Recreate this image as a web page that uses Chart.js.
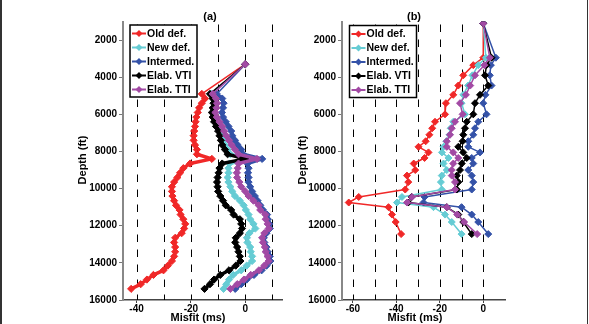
<!DOCTYPE html>
<html><head><meta charset="utf-8">
<script src="https://cdn.jsdelivr.net/npm/chart.js@4.4.0/dist/chart.umd.min.js"></script>
<style>
html,body{margin:0;padding:0;background:#fff;}
#wrap{position:relative;width:589px;height:324px;overflow:hidden;background:#fff;}
canvas{position:absolute;top:0;}
#ca{left:0;}
#cb{left:290px;}
.edge{position:absolute;top:0;height:324px;background:#333;}
</style>
</head><body>
<div id="wrap">
<canvas id="ca" width="300" height="324"></canvas>
<canvas id="cb" width="299" height="324"></canvas>
<div class="edge" style="left:0;width:2px"></div>
<div class="edge" style="left:587px;width:1px"></div>
</div>
<script>
// ---------- data ----------
const seriesNames = ['Old def.', 'New def.', 'Intermed.', 'Elab. VTI', 'Elab. TTI'];
const seriesColors = ['#f02828', '#66ccd4', '#3452a8', '#000000', '#a24aa4'];
const drawOrder = [5, 4, 3, 2, 1];

const depthTicks = [2000, 4000, 6000, 8000, 10000, 12000, 14000, 16000];
const aMisfitTicks = [-40, -20, 0];
const bMisfitTicks = [-60, -40, -20, 0];
const aDashLines = [-40, -30, -20, -10, 0, 10];
const bDashLines = [-60, -50, -40, -30, -20, -10, 0];

// panel (a)
const aDepthFt = [3300, 4900, 5150, 5400, 5650, 5900, 6150, 6400, 6650, 6900, 7150, 7400, 7650, 7900, 8150, 8400, 8650, 8900, 9150, 9400, 9650, 9900, 10150, 10400, 10650, 10900, 11150, 11400, 11650, 11900, 12150, 12400, 12650, 12900, 13150, 13400, 13650, 13900, 14150, 14400, 14650, 14900, 15150, 15400];
const aOldDef = [0, -16, -14.8, -16, -17, -17.5, -18, -18.3, -18.5, -18.8, -19, -19, -18.5, -17.8, -17.8, -12.3, -20.3, -22.8, -24, -25, -26.2, -27, -27, -26.8, -26.2, -25.5, -24.2, -23.8, -22.8, -22.1, -22.5, -23.4, -25.8, -26.2, -25.8, -25.8, -26.2, -27, -28.5, -30.1, -33.8, -36.2, -38.5, -42];
const aNewDef = [0, -12.5, -11.5, -11, -11.2, -11.5, -11, -10.5, -9.8, -9, -8.5, -8, -7.5, -6.5, -5.5, 2, -5.8, -6.2, -6.2, -6.5, -6.2, -5.5, -4.8, -3.8, -2, -0.6, 0.2, 1.2, 1.8, 3, 3.7, 1.5, 0.6, 0.8, 1.8, 2, 2.5, 2.5, 0.5, -1.5, -4.5, -6, -7, -8];
const aIntermed = [0, -10.5, -8.5, -8, -8.2, -8.6, -8.2, -7.2, -6.2, -5.2, -4.8, -3.8, -2.8, -1.5, -0.8, 6.2, 0.8, 1.2, 1, 1.2, 1.2, 1.8, 2.5, 3.5, 4.5, 5.5, 6.5, 8, 8.3, 8.8, 9, 7.8, 6.8, 7, 7.8, 8.2, 9, 9.2, 7.8, 6, 3.2, 0.5, -1.5, -3.7];
const aElabVTI = [0, -13, -12, -11.7, -12, -12.3, -12, -11.5, -10.8, -10, -9.5, -9, -8.5, -7.5, -6.5, 0, -8.5, -9.5, -9.8, -10.2, -10.4, -10.2, -10, -9.2, -8.2, -7.2, -5.2, -4.3, -2, -1.5, -1.2, -2, -3.5, -3.7, -3, -2.5, -2, -1.8, -3.5, -6, -9.2, -11.5, -13, -15];
const aElabTTI = [0, -12, -10.8, -10.4, -10.6, -11, -10.5, -9.5, -8.5, -7.8, -7, -6, -5, -3.8, -2.5, 4.3, -2.5, -2.8, -3.1, -3, -2.2, -1.5, 0, 1.2, 3, 4.9, 5.5, 7.4, 7.5, 8.2, 8.6, 7, 6.2, 6.5, 7.2, 7.5, 8.2, 8.6, 7, 5, 2, -0.5, -3, -5.5];

// panel (b)
const bDepthFt = [1100, 2950, 3350, 3900, 4450, 4950, 5400, 6000, 6400, 6750, 7100, 7450, 7750, 8050, 8350, 8650, 9000, 9300, 9650, 10050, 10450, 10750, 11000, 11400, 11800, 12450];
const bOldDef = [0, 0, -4.6, -9.2, -11.5, -13.8, -17.2, -17.6, -22.2, -23.5, -24.8, -26.5, -29.8, -25.2, -27, -32, -31.3, -35.1, -34.5, -35.9, -57.3, -61.9, -43.6, -42, -40.3, -37.8];
const bNewDef = [0, 1.2, -2.3, -5, -7, -9.2, -10, -8.4, -13.8, -15, -15.5, -17, -18.3, -19, -16, -18.3, -16.8, -19.1, -19.5, -19.1, -37.4, -39.7, -22.9, -17.6, -14.5, -10];
const bIntermed = [0, 5.8, 3.5, 3, 3.8, 1, 0, 1.5, -2.3, -3.8, -4.6, -6.9, -6.9, -1.5, -5.3, -4.6, -6.9, -5.3, -4.6, -5.3, -27, -27.5, -10, -5.3, -2.3, 2.3];
const bElabVTI = [0, 3.8, 1.5, 0.8, 2.3, -1.5, -3.8, -4.6, -7.6, -8.4, -9.2, -9.5, -11.5, -9.2, -7.6, -9.9, -10.7, -12.2, -11.5, -12.2, -33, -34.5, -16.8, -11.5, -9.2, -5.3];
const bElabTTI = [0, 3, 0.5, -3.8, -6, -8, -10.7, -9.5, -13, -14.5, -15.3, -16.8, -16.8, -13.8, -11.5, -13.8, -14.5, -14.5, -13, -13, -32.8, -35.1, -16.8, -12, -8.8, -2.8];

// ---------- drawing ----------
const FONT = '"Liberation Sans", Arial, Helvetica, sans-serif';
Chart.defaults.font.family = FONT;
Chart.defaults.font.weight = 'bold';

function pts(depth, vals) { return vals.map((v, i) => ({ x: v, y: depth[i] })); }

function diamond(ctx, x, y, r) {
  ctx.beginPath();
  ctx.moveTo(x, y - r); ctx.lineTo(x + r, y); ctx.lineTo(x, y + r); ctx.lineTo(x - r, y);
  ctx.closePath(); ctx.fill();
}

const decor = {
  id: 'decor',
  beforeDatasetsDraw(chart, args, o) {
    const { ctx, chartArea: ca, scales: { x } } = chart;
    ctx.save();
    ctx.setLineDash([7.5, 7.5]);
    ctx.strokeStyle = '#000';
    ctx.lineWidth = 1;
    for (const v of o.dash) {
      const px = Math.round(x.getPixelForValue(v)) + 0.5;
      ctx.beginPath(); ctx.moveTo(px, ca.top + 3); ctx.lineTo(px, ca.bottom); ctx.stroke();
    }
    ctx.restore();
  },
  afterDraw(chart, args, o) {
    const ctx = chart.ctx;
    ctx.save();
    // legend
    const L = o.legend;
    ctx.fillStyle = '#fff';
    ctx.fillRect(L.x, L.y, L.w, L.h);
    ctx.strokeStyle = '#000'; ctx.lineWidth = 1.5; ctx.setLineDash([]);
    ctx.strokeRect(L.x, L.y, L.w, L.h);
    ctx.font = 'bold 10.5px ' + FONT;
    ctx.textBaseline = 'middle'; ctx.textAlign = 'left';
    seriesNames.forEach((name, i) => {
      const y = L.y + 8.5 + i * 14;
      const c = seriesColors[i];
      ctx.strokeStyle = c; ctx.fillStyle = c; ctx.lineWidth = 2;
      ctx.beginPath(); ctx.moveTo(L.x + 2, y); ctx.lineTo(L.x + 16, y); ctx.stroke();
      diamond(ctx, L.x + 9, y, 3.5);
      ctx.fillStyle = '#000';
      ctx.fillText(name, L.x + 17, y + 0.5);
    });
    // titles
    ctx.fillStyle = '#000';
    ctx.font = 'bold 11px ' + FONT;
    ctx.textAlign = 'center'; ctx.textBaseline = 'middle';
    ctx.fillText(o.title, o.titleX, 16.5);
    ctx.fillText('Misfit (ms)', o.xlabX, 318);
    ctx.translate(o.ylabX, 160);
    ctx.rotate(-Math.PI / 2);
    ctx.fillText('Depth (ft)', 0, 0);
    ctx.restore();
  }
};

function makeChart(id, cfg) {
  return new Chart(document.getElementById(id), {
    type: 'scatter',
    data: {
      datasets: cfg.series.map((vals, i) => ({
        label: seriesNames[i],
        data: pts(cfg.depth, vals),
        showLine: true,
        borderColor: seriesColors[i],
        backgroundColor: seriesColors[i],
        borderWidth: cfg.lw,
        borderJoinStyle: 'round',
        segment: {
          borderWidth: s => (Math.abs(s.p1.parsed.y - s.p0.parsed.y) > 1000 ? 1.5 : cfg.lw)
        },
        pointStyle: 'rectRot',
        pointRadius: cfg.pr,
        pointBorderWidth: 1,
        order: drawOrder[i]
      }))
    },
    options: {
      responsive: false,
      animation: false,
      events: [],
      layout: { padding: { left: 0, right: cfg.padR, top: 21.5, bottom: 0 } },
      plugins: {
        legend: { display: false },
        tooltip: { enabled: false },
        decor: cfg.decor
      },
      scales: {
        x: {
          type: 'linear', min: cfg.xmin, max: cfg.xmax,
          afterBuildTicks(s) { s.ticks = cfg.xticks.map(v => ({ value: v })); },
          afterFit(s) { s.height = 24; },
          ticks: { color: '#000', font: { size: 10, weight: 'bold' }, padding: 0, maxRotation: 0, autoSkip: false, callback: v => String(v) },
          grid: { display: true, drawOnChartArea: false, drawTicks: true, tickLength: 3, color: '#444', lineWidth: 1 },
          border: { display: true, color: '#444', width: 1.5 }
        },
        y: {
          type: 'linear', reverse: true, min: 1000, max: 16000,
          afterBuildTicks(s) { s.ticks = depthTicks.map(v => ({ value: v })); },
          afterFit(s) { s.width = cfg.yW; },
          ticks: { color: '#000', font: { size: 10, weight: 'bold' }, padding: 2, autoSkip: false, callback: v => String(v) },
          grid: { display: true, drawOnChartArea: false, drawTicks: true, tickLength: 4, color: '#777', lineWidth: 1 },
          border: { display: true, color: '#888', width: 2 }
        }
      }
    },
    plugins: [decor]
  });
}

makeChart('ca', {
  depth: aDepthFt,
  series: [aOldDef, aNewDef, aIntermed, aElabVTI, aElabTTI],
  pr: 3.6, lw: 3.5, xmin: -45, xmax: 13.5, xticks: aMisfitTicks, yW: 123, padR: 18,
  decor: { dash: aDashLines, legend: { x: 130, y: 25, w: 67, h: 72 }, title: '(a)', titleX: 210, xlabX: 198, ylabX: 83 }
});
makeChart('cb', {
  depth: bDepthFt,
  series: [bOldDef, bNewDef, bIntermed, bElabVTI, bElabTTI],
  pr: 3.5, lw: 1.5, xmin: -65, xmax: 10, xticks: bMisfitTicks, yW: 52, padR: 84,
  decor: { dash: bDashLines, legend: { x: 59.5, y: 25.5, w: 67, h: 72 }, title: '(b)', titleX: 124, xlabX: 125, ylabX: 13 }
});
</script>
</body></html>
